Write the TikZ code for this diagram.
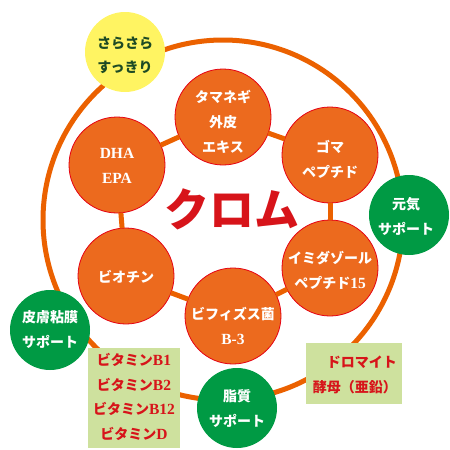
\documentclass[tikz,border=0pt]{standalone}
\usepackage{fontspec}
\newfontfamily\cjk{Noto Sans CJK JP}
\newfontfamily\lat{Liberation Serif}
\newcommand{\lt}[1]{{\lat\bfseries\fontsize{15.5}{25}\selectfont #1}}
\definecolor{ringc}{HTML}{EB6100}
\definecolor{orangec}{HTML}{EC6A1E}
\definecolor{edgec}{HTML}{E50012}
\definecolor{greenc}{HTML}{009A44}
\definecolor{yellowc}{HTML}{FFF462}
\definecolor{boxc}{HTML}{CEE19E}
\definecolor{redtxt}{HTML}{D7141A}
\definecolor{dgreen}{HTML}{1D4A24}
\tikzset{
  ring/.style={draw=ringc, line width=5pt},
  link/.style={draw=ringc, line width=5pt, shorten <=-0.5pt, shorten >=-0.5pt},
  orb/.style={circle, fill=orangec, draw=edgec, line width=0.8pt, minimum size=96pt, inner sep=0pt},
  gorb/.style={circle, fill=greenc, minimum size=80pt, inner sep=0pt},
  yorb/.style={circle, fill=yellowc, minimum size=80pt, inner sep=0pt},
  infobox/.style={fill=boxc, inner sep=0pt, anchor=north west},
  wtxt/.style={text=white, font=\cjk\bfseries\fontsize{14}{25}\selectfont, align=center, inner sep=0pt},
  gtxt/.style={text=dgreen, font=\cjk\bfseries\fontsize{14}{24}\selectfont, align=center, inner sep=0pt},
  rtxt/.style={text=redtxt, font=\cjk\bfseries\fontsize{14}{24.4}\selectfont, inner sep=0pt},
  title/.style={text=redtxt, font=\cjk\bfseries\fontsize{45}{50}\selectfont, inner sep=0pt}
}
\begin{document}
\begin{tikzpicture}[x=1pt,y=-1pt]
\useasboundingbox (0,0) rectangle (450,450);
% outer ring
\coordinate (rc) at (223,220);
\draw[ring] (rc) circle[radius=180pt];
% inner orange circles
\node[orb] (tama) at (223,117) {};
\node[orb] (goma) at (330,155) {};
\node[orb] (imi) at (330,268) {};
\node[orb] (bifi) at (233,316) {};
\node[orb] (bio) at (126,276) {};
\node[orb] (dha) at (117,165) {};
% links between inner circles
\draw[link] (tama) -- (goma);
\draw[link] (goma) -- (imi);
\draw[link] (imi) -- (bifi);
\draw[link] (bifi) -- (bio);
\draw[link] (bio) -- (dha);
\draw[link] (dha) -- (tama);
% outer circles and boxes
\node[yorb] (sara) at (125,52) {};
\node[gorb] (genki) at (409,215) {};
\node[gorb] (hifu) at (50,330) {};
\node[gorb] (shi) at (237,408) {};
\node[infobox, minimum width=92pt, minimum height=100pt] (vbox) at (88,348) {};
\node[infobox, minimum width=96pt, minimum height=61pt] (dbox) at (306,343) {};
% texts
\node[title] (kuromu) at (232,209) {クロム};
\node[wtxt] (t1) at (223,122) {タマネギ\\外皮\\エキス};
\node[wtxt] (t2) at (330,159) {ゴマ\\ペプチド};
\node[wtxt] (t3) at (330,270) {イミダゾール\\ペプチド\lt{15}};
\node[wtxt] (t4) at (233,326) {ビフィズス菌\\\lt{B-3}};
\node[wtxt] (t5) at (126,277) {ビオチン};
\node[wtxt] (t6) at (117,166) {\lt{DHA}\\\lt{EPA}};
\node[gtxt] (t7) at (125,55) {さらさら\\すっきり};
\node[wtxt] (t8) at (406,216) {元気\\サポート};
\node[wtxt] (t9) at (50,330) {皮膚粘膜\\サポート};
\node[wtxt] (t10) at (237,409) {脂質\\サポート};
\node[rtxt, align=center] (t11) at (134,397) {ビタミン\lt{B1}\\ビタミン\lt{B2}\\ビタミン\lt{B12}\\ビタミン\lt{D}};
\node[rtxt, align=right, anchor=east] (t12) at (397,375) {ドロマイト\\酵母（亜鉛）};
\end{tikzpicture}
\end{document}
